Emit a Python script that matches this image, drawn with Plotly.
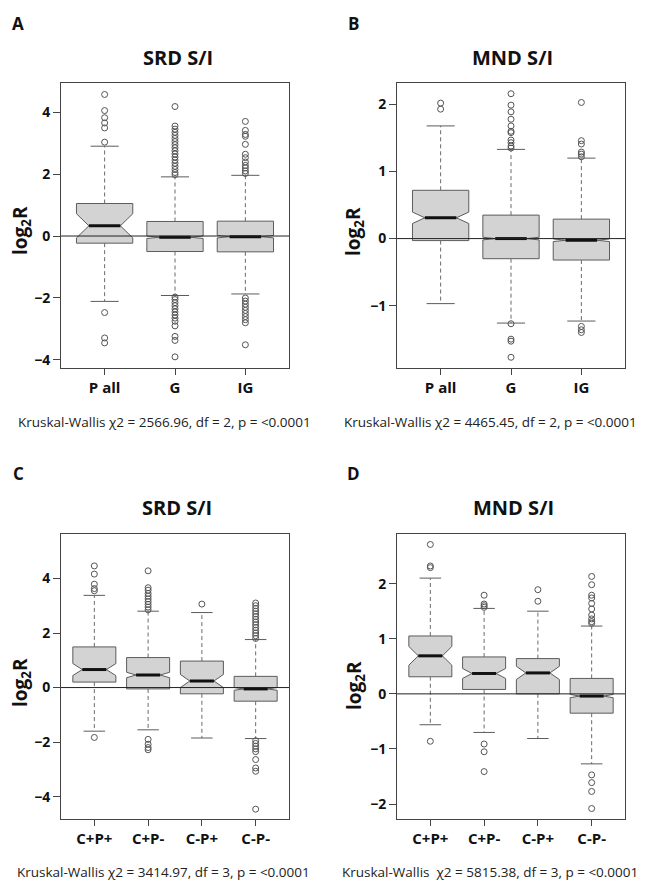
import plotly.graph_objects as go
from plotly.subplots import make_subplots

# ---------------- Panel A : SRD S/I ----------------
catsA = ["P all", "G", "IG"]
q1A = [-0.23, -0.50, -0.51]
medA = [0.33, -0.04, -0.02]
q3A = [1.05, 0.47, 0.48]
loA = [-2.11, -1.92, -1.87]
hiA = [2.90, 1.91, 1.96]
notchA = [0.39, 0.04, 0.04]
outA = [
    [4.57, 4.05, 3.82, 3.65, 3.49, 3.03, -2.47, -3.29, -3.45],
    [4.18, 3.55, 3.45, 3.35, 3.25, 3.15, 3.05, 2.95, 2.85, 2.75, 2.65, 2.55, 2.45,
     2.35, 2.25, 2.15, 2.05, 1.98, -1.97, -2.05, -2.15, -2.25, -2.35, -2.45, -2.55,
     -2.65, -2.75, -2.90, -3.24, -3.37, -3.90],
    [3.70, 3.41, 3.28, 3.22, 2.96, 2.64, 2.53, 2.39, 2.28, 2.20, 2.10, 2.02,
     -2.00, -2.10, -2.20, -2.30, -2.40, -2.50, -2.60, -2.70, -2.80, -3.51],
]

# ---------------- Panel B : MND S/I ----------------
catsB = ["P all", "G", "IG"]
q1B = [-0.03, -0.30, -0.32]
medB = [0.31, 0.00, -0.025]
q3B = [0.72, 0.35, 0.29]
loB = [-0.97, -1.26, -1.23]
hiB = [1.68, 1.33, 1.20]
notchB = [0.085, 0.02, 0.02]
outB = [
    [2.02, 1.93],
    [2.16, 1.99, 1.89, 1.78, 1.68, 1.60, 1.58, 1.47, 1.43, 1.38, 1.35,
     -1.27, -1.50, -1.53, -1.77],
    [2.03, 1.46, 1.41, 1.29, 1.26, 1.22, -1.31, -1.36, -1.40],
]

# ---------------- Panel C : SRD S/I ----------------
catsC = ["C+P+", "C+P-", "C-P+", "C-P-"]
q1C = [0.20, -0.05, -0.23, -0.50]
medC = [0.66, 0.46, 0.24, -0.05]
q3C = [1.49, 1.10, 0.97, 0.41]
loC = [-1.60, -1.55, -1.85, -1.87]
hiC = [3.38, 2.80, 2.75, 1.76]
notchC = [0.22, 0.10, 0.24, 0.05]
outC = [
    [4.46, 4.16, 3.79, 3.63, 3.55, -1.83],
    [4.28, 3.66, 3.57, 3.45, 3.35, 3.25, 3.15, 3.05, 2.95, 2.85,
     -1.90, -2.08, -2.20, -2.28],
    [3.06],
    [3.10, 3.00, 2.90, 2.80, 2.70, 2.60, 2.50, 2.40, 2.30, 2.20, 2.10, 2.00, 1.90, 1.80,
     -1.95, -2.05, -2.15, -2.25, -2.35, -2.64, -2.95, -3.07, -4.46],
]

# ---------------- Panel D : MND S/I ----------------
catsD = ["C+P+", "C+P-", "C-P+", "C-P-"]
q1D = [0.31, 0.08, 0.00, -0.35]
medD = [0.69, 0.37, 0.38, -0.04]
q3D = [1.05, 0.67, 0.64, 0.28]
loD = [-0.56, -0.70, -0.81, -1.27]
hiD = [2.10, 1.55, 1.50, 1.23]
notchD = [0.17, 0.09, 0.12, 0.03]
outD = [
    [2.71, 2.32, 2.29, -0.86],
    [1.79, 1.63, 1.60, 1.57, -0.91, -1.05, -1.41],
    [1.89, 1.68],
    [2.13, 1.98, 1.79, 1.74, 1.64, 1.54, 1.43, 1.36, 1.31, 1.28,
     -1.47, -1.61, -1.77, -2.08],
]

titles = ["SRD S/I", "MND S/I", "SRD S/I", "MND S/I"]
letters = ["A", "B", "C", "D"]
kw_texts = [
    "Kruskal-Wallis χ2 = 2566.96, df = 2, p = <0.0001",
    "Kruskal-Wallis χ2 = 4465.45, df = 2, p = <0.0001",
    "Kruskal-Wallis χ2 = 3414.97, df = 3, p = <0.0001",
    "Kruskal-Wallis\u00a0 χ2 = 5815.38, df = 3, p = <0.0001",
]
yticksA = [-4, -2, 0, 2, 4]
yticksB = [-1, 0, 1, 2]
yticksC = [-4, -2, 0, 2, 4]
yticksD = [-2, -1, 0, 1, 2]

panels = [
    dict(cats=catsA, q1=q1A, med=medA, q3=q3A, lo=loA, hi=hiA, notch=notchA, out=outA,
         yt=yticksA, yr=[-4.26, 4.94]),
    dict(cats=catsB, q1=q1B, med=medB, q3=q3B, lo=loB, hi=hiB, notch=notchB, out=outB,
         yt=yticksB, yr=[-1.93, 2.32]),
    dict(cats=catsC, q1=q1C, med=medC, q3=q3C, lo=loC, hi=hiC, notch=notchC, out=outC,
         yt=yticksC, yr=[-4.82, 5.63]),
    dict(cats=catsD, q1=q1D, med=medD, q3=q3D, lo=loD, hi=hiD, notch=notchD, out=outD,
         yt=yticksD, yr=[-2.27, 2.90]),
]

W, H = 650, 881
OFF = 8            # page body margin of the browser
FW, FH = W - OFF, H - OFF
FONT = "Open Sans"
BOXW = 0.8
NW = 0.22
FILL = "#d3d3d3"
EDGE = "#5c5c5c"

# plot-area pixel boxes in the reference (left, right, top, bottom)
areas = [
    (61, 289, 83, 368),
    (397, 625, 83, 368),
    (61, 289, 534, 819),
    (397, 625, 534, 819),
]

fig = make_subplots(rows=2, cols=2)


def px2x(p):
    return (p - OFF) / FW


def px2y(p):
    return 1 - (p - OFF) / FH


for i, p in enumerate(panels):
    row, col = i // 2 + 1, i % 2 + 1
    n = len(p["cats"])
    pos = list(range(1, n + 1))
    for k in range(n):
        fig.add_trace(go.Box(
            x=[pos[k]], q1=[p["q1"][k]], median=[p["med"][k]], q3=[p["q3"][k]],
            lowerfence=[p["q1"][k]], upperfence=[p["q3"][k]],
            notched=True, notchspan=[p["notch"][k]], notchwidth=NW,
            width=BOXW, fillcolor=FILL, line=dict(color=EDGE, width=1),
            whiskerwidth=0, boxpoints=False, showlegend=False, hoverinfo="skip",
        ), row=row, col=col)
    wx, wy = [], []
    for k in range(n):
        wx += [pos[k], pos[k], None, pos[k], pos[k], None]
        wy += [p["q3"][k], p["hi"][k], None, p["q1"][k], p["lo"][k], None]
    fig.add_trace(go.Scatter(x=wx, y=wy, mode="lines",
                             line=dict(color="#6a6a6a", width=1, dash="4px,3px"),
                             showlegend=False, hoverinfo="skip"), row=row, col=col)
    sx, sy = [], []
    for k in range(n):
        sx += [pos[k] - BOXW / 4, pos[k] + BOXW / 4, None,
               pos[k] - BOXW / 4, pos[k] + BOXW / 4, None]
        sy += [p["hi"][k], p["hi"][k], None, p["lo"][k], p["lo"][k], None]
    fig.add_trace(go.Scatter(x=sx, y=sy, mode="lines",
                             line=dict(color=EDGE, width=1),
                             showlegend=False, hoverinfo="skip"), row=row, col=col)
    mh = BOXW / 2 - NW * BOXW
    mx, my = [], []
    for k in range(n):
        mx += [pos[k] - mh, pos[k] + mh, None]
        my += [p["med"][k], p["med"][k], None]
    fig.add_trace(go.Scatter(x=mx, y=my, mode="lines",
                             line=dict(color="#111111", width=3),
                             showlegend=False, hoverinfo="skip"), row=row, col=col)
    ox, oy = [], []
    for k in range(n):
        ox += [pos[k]] * len(p["out"][k])
        oy += p["out"][k]
    fig.add_trace(go.Scatter(x=ox, y=oy, mode="markers",
                             marker=dict(symbol="circle-open", size=6,
                                         color="#555555", line=dict(width=1)),
                             showlegend=False, hoverinfo="skip"), row=row, col=col)
    fig.add_hline(y=0, line=dict(color="#222222", width=1), row=row, col=col)

    l, r, t, b = areas[i]
    xa = "xaxis" if i == 0 else f"xaxis{i+1}"
    ya = "yaxis" if i == 0 else f"yaxis{i+1}"
    fig.update_layout({
        xa: dict(domain=[px2x(l), px2x(r)], range=[0.38, n + 0.62],
                 tickvals=pos, ticktext=[f"<b>{c}</b>" for c in p["cats"]],
                 tickfont=dict(family=FONT, size=15, color="#111"),
                 ticks="outside", ticklen=6, tickcolor="#444",
                 showline=True, linecolor="#444", linewidth=1, mirror=True,
                 showgrid=False, zeroline=False, fixedrange=True),
        ya: dict(domain=[px2y(b), px2y(t)], range=p["yr"],
                 tickvals=p["yt"],
                 ticktext=[f"<b>{'−' if v < 0 else ''}{abs(v)}</b>" for v in p["yt"]],
                 tickfont=dict(family=FONT, size=14, color="#111"),
                 ticks="outside", ticklen=7, tickcolor="#444",
                 showline=True, linecolor="#444", linewidth=1, mirror=True,
                 showgrid=False, zeroline=False, fixedrange=True),
    })

title_pos = [(178, 57), (512, 57), (177, 508), (513, 507)]
letter_pos = [(18, 23), (354, 23), (19, 473), (354, 473)]
kw_pos = [(164, 422), (490, 422), (163, 872), (490, 872)]
ylab_pos = [(21, 231), (354, 231), (21, 683), (355, 686)]

ann = []
for i in range(4):
    ann.append(dict(x=px2x(title_pos[i][0]), y=px2y(title_pos[i][1]), xref="paper", yref="paper",
                    text=f"<b>{titles[i]}</b>", showarrow=False, xanchor="center", yanchor="middle",
                    font=dict(family=FONT, size=20, color="#111")))
    ann.append(dict(x=px2x(letter_pos[i][0]), y=px2y(letter_pos[i][1]), xref="paper", yref="paper",
                    text=f"<b>{letters[i]}</b>", showarrow=False, xanchor="center", yanchor="middle",
                    font=dict(family=FONT, size=17, color="#111")))
    ann.append(dict(x=px2x(kw_pos[i][0]), y=px2y(kw_pos[i][1]), xref="paper", yref="paper",
                    text=kw_texts[i], showarrow=False, xanchor="center", yanchor="middle",
                    font=dict(family=FONT, size=13.5, color="#222")))
    ann.append(dict(x=px2x(ylab_pos[i][0]), y=px2y(ylab_pos[i][1]), xref="paper", yref="paper",
                    text="<b>log<sub>2</sub>R</b>", showarrow=False, textangle=-90,
                    xanchor="center", yanchor="middle",
                    font=dict(family=FONT, size=19, color="#111")))

fig.update_layout(
    width=FW, height=FH, margin=dict(l=0, r=0, t=0, b=0),
    paper_bgcolor="white", plot_bgcolor="white",
    boxmode="overlay", showlegend=False, annotations=ann,
)

fig.write_html("out.html")
